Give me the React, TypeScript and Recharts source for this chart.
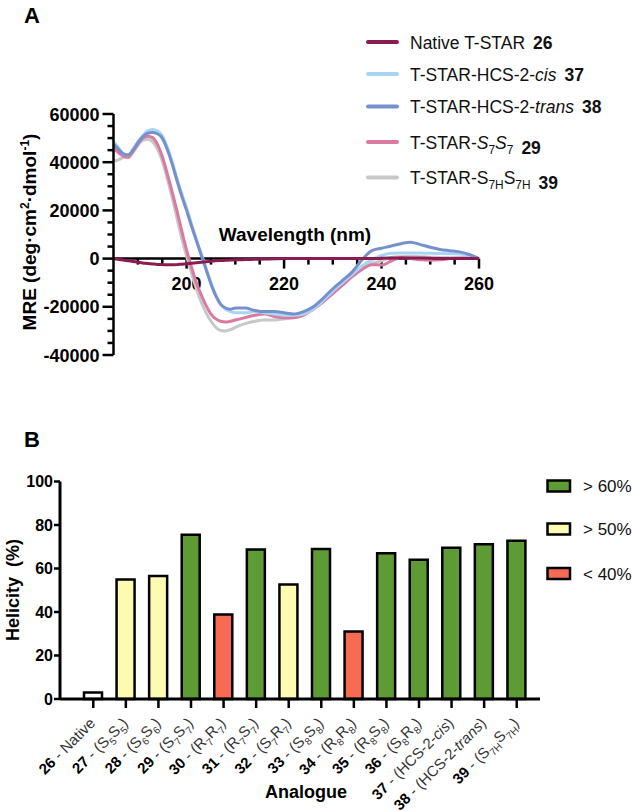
import React from 'react';
import { LineChart, Line, XAxis, YAxis, BarChart, Bar, Cell } from 'recharts';

const FONT = '"Liberation Sans", Arial, Helvetica, sans-serif';

// ---------- Panel A data (CD spectra) ----------
const wavelengths = [185, 186, 187, 188, 189, 190, 191, 192, 193, 194, 195, 196, 197, 198, 199, 200, 201, 202, 203, 204, 205, 206, 207, 208, 209, 210, 212, 214, 216, 218, 220, 222, 224, 226, 228, 230, 232, 234, 236, 238, 240, 242, 244, 246, 248, 250, 252, 254, 256, 258, 260];
const native26 = [0, -300, -600, -900, -1200, -1500, -1800, -2000, -2200, -2400, -2500, -2600, -2600, -2500, -2300, -2100, -1900, -1700, -1500, -1300, -1100, -900, -800, -700, -600, -500, -400, -300, -200, -100, 0, 0, 0, 0, 0, 0, 0, 0, 0, 0, 100, 200, 300, 300, 200, 100, 0, 0, 0, 0, 0];
const cis37 = [48500, 46000, 43500, 43000, 45500, 48500, 51000, 53000, 53600, 53000, 51000, 46500, 40500, 33500, 27000, 21000, 14500, 8000, 2000, -4000, -10000, -15000, -19000, -21000, -22000, -22500, -22500, -22000, -22500, -23000, -23500, -23500, -23000, -21000, -17500, -13500, -10000, -6500, -3000, -500, 1300, 2200, 2300, 2300, 2300, 2200, 2100, 2000, 1900, 1500, 0];
const trans38 = [47500, 45500, 43500, 43000, 45000, 48000, 50500, 52000, 52300, 51800, 50000, 45500, 39500, 32500, 26000, 20000, 13500, 7500, 1500, -4500, -10500, -15500, -19000, -20500, -21000, -20500, -20500, -21500, -22000, -22000, -22500, -23000, -22000, -20000, -16500, -12500, -9000, -5500, -500, 3300, 4300, 5200, 6200, 6800, 5800, 4700, 3800, 3300, 2800, 1700, 0];
const s7s7_29 = [46000, 44000, 42500, 42000, 44500, 47500, 50000, 50800, 50200, 47500, 42500, 35500, 28000, 20000, 11500, 3500, -3500, -10000, -15000, -19500, -23000, -25000, -26000, -26300, -26000, -25500, -24500, -23500, -23000, -24000, -24500, -24500, -23500, -21000, -18000, -14500, -11000, -7500, -4500, -2500, -2700, -1000, 500, 0, -500, -700, -500, 0, 300, 300, 0];
const s7h39 = [40500, 41000, 42000, 42500, 44000, 47000, 49000, 49500, 48500, 45500, 40500, 33500, 25500, 17000, 8500, 1000, -6000, -12500, -18000, -22500, -26000, -28500, -29800, -30000, -29500, -28500, -27000, -26000, -25500, -25500, -25000, -24500, -23000, -20500, -17000, -13500, -10000, -7000, -4000, -2000, -1000, 500, 800, 1000, 800, 600, 500, 400, 300, 200, 0];

const mreTicks = [-40000, -35000, -30000, -25000, -20000, -15000, -10000, -5000, 0, 5000, 10000, 15000, 20000, 25000, 30000, 35000, 40000, 45000, 50000, 55000, 60000];
const wavelengthTicks = [190, 195, 200, 205, 210, 215, 220, 225, 230, 235, 240, 245, 250, 255, 260];

const seriesKeysA = ['native26', 'cis37', 'trans38', 's7s7_29', 's7h39'];
const seriesLabelsA = ['Native T-STAR', 'T-STAR-HCS-2-*cis*', 'T-STAR-HCS-2-*trans*', 'T-STAR-*S*_{7}*S*_{7}', 'T-STAR-S_{7H}S_{7H}'];
const seriesNumsA = ['26', '37', '38', '29', '39'];
const seriesColorsA = ['#8a1c52', '#a9d5f5', '#7690cd', '#d97aa0', '#c8c8c8'];

const curveRows = wavelengths.map((w, i) => ({
  w,
  native26: native26[i],
  cis37: cis37[i],
  trans38: trans38[i],
  s7s7_29: s7s7_29[i],
  s7h39: s7h39[i],
}));

// ---------- Panel B data (helicity) ----------
const analogueNums = ['26', '27', '28', '29', '30', '31', '32', '33', '34', '35', '36', '37', '38', '39'];
const analogueNames = ['Native', '(S_{5}S_{5})', '(S_{6}S_{6})', '(S_{7}S_{7})', '(R_{7}R_{7})', '(R_{7}S_{7})', '(S_{7}R_{7})', '(S_{8}S_{8})', '(R_{8}R_{8})', '(R_{8}S_{8})', '(S_{8}R_{8})', '(HCS-2-*cis*)', '(HCS-2-*trans*)', '(S_{7H}S_{7H})'];
const helicity = [3, 55, 56.5, 75.5, 38.8, 68.7, 52.7, 69, 31, 67, 64, 69.5, 71.2, 72.8];
const helicityGroup = ['native', 'mid', 'mid', 'high', 'low', 'high', 'mid', 'high', 'low', 'high', 'high', 'high', 'high', 'high'];
const helicityTicks = [0, 20, 40, 60, 80, 100];

const groupColors: Record<string, string> = { native: '#ffffff', mid: '#fdfbb2', high: '#5f9b35', low: '#f76b55' };
const legendBLabels = ['> 60%', '> 50%', '< 40%'];
const legendBGroups = ['high', 'mid', 'low'];

const barRows = analogueNums.map((n, i) => ({ id: n, helicity: helicity[i], group: helicityGroup[i] }));

// ---------- rich text helper for SVG ----------
function rich(markup: string, size: number, keyBase: string) {
  const parts = markup.split(/(_\{[^}]+\}|\*[^*]+\*)/).filter((p) => p.length > 0);
  const out: React.ReactNode[] = [];
  const shift = size * 0.3;
  let down = false;
  parts.forEach((p, i) => {
    const k = keyBase + i;
    if (p.startsWith('_{')) {
      out.push(
        <tspan key={k} dy={down ? 0 : shift} fontSize={size * 0.68}>
          {p.slice(2, -1)}
        </tspan>
      );
      down = true;
    } else if (p.startsWith('*')) {
      out.push(
        <tspan key={k} dy={down ? -shift : 0} fontStyle="italic">
          {p.slice(1, -1)}
        </tspan>
      );
      down = false;
    } else {
      out.push(
        <tspan key={k} dy={down ? -shift : 0}>
          {p}
        </tspan>
      );
      down = false;
    }
  });
  return out;
}

// ---------- custom ticks ----------
const YTickA = (props: any) => {
  const { x, y, payload } = props;
  const major = payload.value % 20000 === 0;
  return (
    <g>
      <line x1={x} x2={x - (major ? 11 : 6)} y1={y} y2={y} stroke="#000" strokeWidth={2.5} />
      {major && (
        <text x={x - 14} y={y} dy={6.5} textAnchor="end" fontFamily={FONT} fontWeight="bold" fontSize={18} fill="#000">
          {payload.value}
        </text>
      )}
    </g>
  );
};

const XTickA = (props: any) => {
  const { x, y, payload } = props;
  const major = payload.value % 20 === 0;
  return (
    <g>
      <line x1={x} x2={x} y1={y} y2={y + (major ? 10 : 6)} stroke="#000" strokeWidth={2.5} />
      {major && (
        <text x={x} y={y + 31} textAnchor="middle" fontFamily={FONT} fontWeight="bold" fontSize={18} fill="#000">
          {payload.value}
        </text>
      )}
    </g>
  );
};

const YTickB = (props: any) => {
  const { x, y, payload } = props;
  return (
    <g>
      <line x1={x} x2={x - 6} y1={y} y2={y} stroke="#000" strokeWidth={2.5} />
      <text x={x - 7} y={y} dy={5.5} textAnchor="end" fontFamily={FONT} fontWeight="bold" fontSize={16} fill="#000">
        {payload.value}
      </text>
    </g>
  );
};

const XTickB = (props: any) => {
  const { x, y, payload } = props;
  const i = analogueNums.indexOf(String(payload.value));
  const tx = x + 3;
  const ty = y + 25;
  return (
    <g>
      <line x1={x} x2={x} y1={y} y2={y + 9} stroke="#000" strokeWidth={2.5} />
      <text x={tx} y={ty} textAnchor="end" transform={`rotate(-45 ${tx} ${ty})`} fontFamily={FONT} fontSize={15} fill="#333">
        <tspan fontWeight="bold" fill="#000">{analogueNums[i]}</tspan>
        <tspan> - </tspan>
        {rich(analogueNames[i], 15, 'n' + i)}
      </text>
    </g>
  );
};

const abs = (left: number, top: number): React.CSSProperties => ({ position: 'absolute', left, top });

const YW_A = 60;
const XH_A = 40;
const YW_B = 50;
const XH_B = 100;

export default function App() {
  return (
    <div style={{ position: 'absolute', left: 0, top: 0, width: 632, height: 812, background: '#fff', fontFamily: FONT }}>
      {/* Panel A: x axis drawn at MRE = 0 (bottom edge of this chart's plot area) */}
      <div style={abs(0, 0)}>
        <LineChart width={632} height={400} data={curveRows} margin={{ top: 114, right: 153, bottom: 141.4 - XH_A, left: 113.5 }}>
          <XAxis
            type="number"
            dataKey="w"
            domain={[185, 260]}
            ticks={wavelengthTicks}
            interval={0}
            height={XH_A}
            tickSize={0}
            tickMargin={0}
            tickLine={false}
            tick={<XTickA />}
            axisLine={{ stroke: '#000', strokeWidth: 2.5 }}
            allowDataOverflow
          />
          <YAxis type="number" domain={[0, 60000]} hide />
        </LineChart>
      </div>

      {/* Panel A: curves and MRE axis */}
      <div style={abs(0, 0)}>
        <LineChart width={632} height={400} data={curveRows} margin={{ top: 114, right: 153, bottom: 45, left: 113.5 - YW_A }}>
          <XAxis type="number" dataKey="w" domain={[185, 260]} hide />
          <YAxis
            type="number"
            domain={[-40000, 60000]}
            ticks={mreTicks}
            interval={0}
            width={YW_A}
            tickSize={0}
            tickMargin={0}
            tickLine={false}
            tick={<YTickA />}
            axisLine={{ stroke: '#000', strokeWidth: 2.5 }}
          />
          <Line dataKey="s7h39" stroke={seriesColorsA[4]} strokeWidth={3} dot={false} type="monotone" isAnimationActive={false} />
          <Line dataKey="s7s7_29" stroke={seriesColorsA[3]} strokeWidth={3} dot={false} type="monotone" isAnimationActive={false} />
          <Line dataKey="cis37" stroke={seriesColorsA[1]} strokeWidth={3} dot={false} type="monotone" isAnimationActive={false} />
          <Line dataKey="trans38" stroke={seriesColorsA[2]} strokeWidth={3} dot={false} type="monotone" isAnimationActive={false} />
          <Line dataKey="native26" stroke={seriesColorsA[0]} strokeWidth={3} dot={false} type="monotone" isAnimationActive={false} />
        </LineChart>
      </div>

      {/* Panel B */}
      <div style={abs(0, 0)}>
        <BarChart width={632} height={812} data={barRows} margin={{ top: 481.5, right: 92, bottom: 113 - XH_B, left: 60 - YW_B }}>
          <XAxis
            dataKey="id"
            type="category"
            interval={0}
            padding={{ left: 17, right: 7 }}
            height={XH_B}
            tickSize={0}
            tickMargin={0}
            tickLine={false}
            tick={<XTickB />}
            axisLine={{ stroke: '#000', strokeWidth: 3 }}
          />
          <YAxis
            type="number"
            domain={[0, 100]}
            ticks={helicityTicks}
            interval={0}
            width={YW_B}
            tickSize={0}
            tickMargin={0}
            tickLine={false}
            tick={<YTickB />}
            axisLine={{ stroke: '#000', strokeWidth: 3 }}
          />
          <Bar dataKey="helicity" barSize={18} stroke="#000" strokeWidth={2.5} isAnimationActive={false}>
            {barRows.map((r, i) => (
              <Cell key={i} fill={groupColors[r.group]} />
            ))}
          </Bar>
        </BarChart>
      </div>

      {/* Static text, legends */}
      <svg width={632} height={812} style={{ position: 'absolute', left: 0, top: 0, pointerEvents: 'none' }} fontFamily={FONT}>
        <text x={24} y={23} fontSize={22} fontWeight="bold">A</text>
        <text x={24} y={447} fontSize={22} fontWeight="bold">B</text>

        <text x={295} y={241} textAnchor="middle" fontSize={19} fontWeight="bold">Wavelength (nm)</text>
        <text transform="rotate(-90 36 232)" x={36} y={232} textAnchor="middle" fontSize={19} fontWeight="bold">
          <tspan>MRE (deg·cm</tspan>
          <tspan dy={-7} fontSize={12}>2</tspan>
          <tspan dy={7}>·dmol</tspan>
          <tspan dy={-7} fontSize={12}>-1</tspan>
          <tspan dy={7}>)</tspan>
        </text>

        <text transform="rotate(-90 19 590)" x={19} y={590} textAnchor="middle" fontSize={18} fontWeight="bold">
          {'Helicity\u00a0\u00a0(%)'}
        </text>
        <text x={306} y={798} textAnchor="middle" fontSize={18} fontWeight="bold">Analogue</text>

        {/* Legend A */}
        {seriesKeysA.map((k, i) => {
          const cy = [42, 74, 106.5, 142, 177.5][i];
          return (
            <g key={k}>
              <line x1={368} x2={397} y1={cy} y2={cy} stroke={seriesColorsA[i]} strokeWidth={4} strokeLinecap="round" />
              <text x={410} y={cy + 6.5} fontSize={17.5} fill="#111">
                {rich(seriesLabelsA[i], 17.5, k)}
                <tspan fontWeight="bold" dx={8}>{seriesNumsA[i]}</tspan>
              </text>
            </g>
          );
        })}

        {/* Legend B */}
        {legendBGroups.map((g, i) => {
          const cy = [486, 529, 573.5][i];
          return (
            <g key={g}>
              <rect x={547.5} y={cy - 5.5} width={22.5} height={11} fill={groupColors[g]} stroke="#000" strokeWidth={2.5} />
              <text x={583} y={cy + 6} fontSize={17} fill="#111">{legendBLabels[i]}</text>
            </g>
          );
        })}
      </svg>
    </div>
  );
}
